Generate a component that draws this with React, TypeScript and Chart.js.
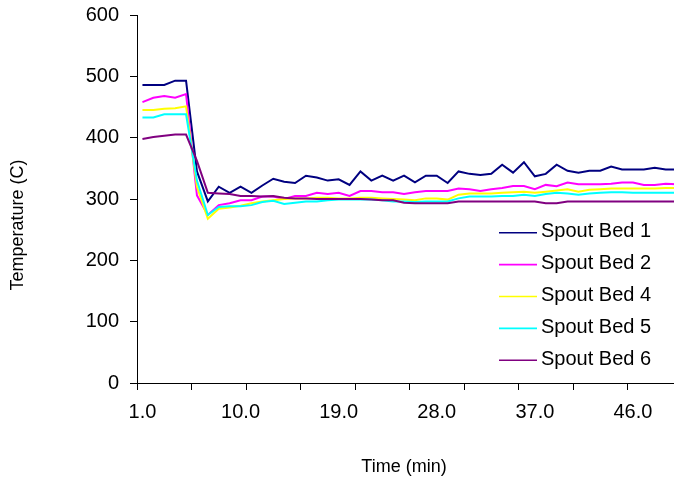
import React, { useEffect, useRef } from "react";
import { Chart, registerables } from "chart.js";

Chart.register(...registerables);

const timeLabels = [
  "1.0", "2.0", "3.0", "4.0", "5.0", "6.0", "7.0", "8.0", "9.0", "10.0",
  "11.0", "12.0", "13.0", "14.0", "15.0", "16.0", "17.0", "18.0", "19.0", "20.0",
  "21.0", "22.0", "23.0", "24.0", "25.0", "26.0", "27.0", "28.0", "29.0", "30.0",
  "31.0", "32.0", "33.0", "34.0", "35.0", "36.0", "37.0", "38.0", "39.0", "40.0",
  "41.0", "42.0", "43.0", "44.0", "45.0", "46.0", "47.0", "48.0", "49.0", "50.0",
];

const seriesNames = ["Spout Bed 1", "Spout Bed 2", "Spout Bed 4", "Spout Bed 5", "Spout Bed 6"];
const seriesColors = ["#000080", "#FF00FF", "#FFFF00", "#00FFFF", "#800080"];

const bed1 = [
  486, 486, 486, 493, 493, 345, 296, 320, 310, 320,
  310, 322, 333, 328, 326, 338, 335, 330, 332, 323,
  345, 330, 338, 330, 338, 327, 338, 338, 326, 345,
  341, 339, 341, 356, 343, 360, 337, 341, 356, 346,
  343, 346, 346, 353, 348, 348, 348, 351, 348, 348,
];
const bed2 = [
  458, 465, 468, 465, 471, 306, 274, 290, 293, 298,
  298, 304, 304, 300, 305, 305, 310, 308, 310, 305,
  313, 313, 311, 311, 308, 311, 313, 313, 313, 317,
  316, 313, 316, 318, 321, 321, 316, 323, 321, 327,
  324, 324, 324, 325, 327, 327, 323, 323, 325, 324,
];
const bed4 = [
  445, 445, 447, 448, 451, 320, 268, 284, 286, 289,
  293, 296, 298, 300, 301, 301, 302, 302, 301, 301,
  302, 302, 301, 300, 299, 298, 301, 301, 299, 307,
  309, 309, 309, 310, 311, 312, 310, 312, 314, 316,
  312, 315, 316, 317, 317, 317, 317, 317, 318, 318,
];
const bed5 = [
  433, 433, 438, 438, 438, 330, 274, 287, 288, 288,
  290, 295, 297, 292, 294, 296, 296, 298, 299, 299,
  299, 299, 298, 296, 296, 295, 296, 296, 296, 301,
  304, 304, 304, 305, 305, 307, 305, 308, 310, 309,
  307, 309, 310, 311, 311, 310, 310, 310, 310, 310,
];
const bed6 = [
  398, 401, 403, 405, 405, 362, 310, 309, 308, 305,
  305, 304, 305, 302, 301, 301, 300, 300, 300, 300,
  300, 299, 298, 298, 294, 293, 293, 293, 293, 296,
  296, 296, 296, 296, 296, 296, 296, 293, 293, 296,
  296, 296, 296, 296, 296, 296, 296, 296, 296, 296,
];

const yMin = 0;
const yMax = 600;
const yStep = 100;
const xLabelEvery = 9;
const xTickEvery = 5;
const yTitle = "Temperature (C)";
const xTitle = "Time (min)";

const FAMILY = "'Liberation Sans', Arial, Helvetica, sans-serif";
const FONT_SIZE = 20;
const TITLE_SIZE = 18;

export default function App() {
  const ref = useRef<HTMLCanvasElement | null>(null);

  useEffect(() => {
    const canvas = ref.current;
    if (!canvas) return;
    const series = [bed1, bed2, bed4, bed5, bed6];

    const overlayPlugin = {
      id: "overlayTexts",
      afterDraw(chart: any) {
        const ctx = chart.ctx as CanvasRenderingContext2D;
        ctx.save();
        ctx.font = `${FONT_SIZE}px ${FAMILY}`;
        ctx.fillStyle = "#000";
        chart.data.datasets.forEach((ds: any, i: number) => {
          const y = 232.7 + 31.9 * i;
          ctx.strokeStyle = ds.borderColor;
          ctx.lineWidth = 1.6;
          ctx.beginPath();
          ctx.moveTo(499, y);
          ctx.lineTo(537, y);
          ctx.stroke();
          ctx.textAlign = "left";
          ctx.textBaseline = "middle";
          ctx.fillText(ds.label, 541, y - 1);
        });
        ctx.font = `${TITLE_SIZE}px ${FAMILY}`;
        ctx.textAlign = "center";
        ctx.textBaseline = "middle";
        ctx.fillText(xTitle, 404, 467);
        ctx.translate(18, 225);
        ctx.rotate(-Math.PI / 2);
        ctx.fillText(yTitle, 0, 0);
        ctx.restore();
      },
    };

    const chart = new Chart(canvas, {
      type: "line",
      data: {
        labels: timeLabels,
        datasets: series.map((d, i) => ({
          label: seriesNames[i],
          data: d,
          borderColor: seriesColors[i],
          backgroundColor: seriesColors[i],
          borderWidth: 2,
          pointRadius: 0,
          pointHoverRadius: 0,
          tension: 0,
          fill: false,
          order: series.length - i,
        })),
      },
      options: {
        responsive: false,
        animation: false,
        layout: { padding: { left: 0, top: 15, right: 10, bottom: 0 } },
        plugins: {
          legend: { display: false },
          tooltip: { enabled: false },
          title: { display: false },
        },
        scales: {
          x: {
            type: "category",
            offset: true,
            grid: {
              offset: true,
              drawOnChartArea: false,
              tickLength: 7,
              lineWidth: 1,
              color: (c: any) => (c.index % xTickEvery === 0 ? "#000" : "rgba(0,0,0,0)"),
            },
            border: { display: true, color: "#000", width: 1 },
            ticks: {
              autoSkip: false,
              maxRotation: 0,
              minRotation: 0,
              padding: 10,
              color: "#000",
              font: { family: FAMILY, size: FONT_SIZE },
              callback: (_v: any, i: number) => (i % xLabelEvery === 0 ? timeLabels[i] : ""),
            },
            afterFit: (s: any) => {
              s.height = 104;
              s.paddingLeft = 0;
              s.paddingRight = 0;
            },
          },
          y: {
            min: yMin,
            max: yMax,
            grid: { drawOnChartArea: false, tickLength: 7, color: "#000", lineWidth: 1 },
            border: { display: true, color: "#000", width: 1 },
            ticks: {
              stepSize: yStep,
              padding: 11,
              color: "#000",
              font: { family: FAMILY, size: FONT_SIZE },
            },
            afterFit: (s: any) => {
              s.width = 137;
              s.paddingTop = 0;
              s.paddingBottom = 0;
            },
          },
        },
      },
      plugins: [overlayPlugin],
    });

    return () => {
      chart.destroy();
    };
  }, []);

  return (
    <div
      style={{
        position: "absolute",
        left: 0,
        top: 0,
        width: 674,
        height: 487,
        overflow: "hidden",
        background: "#fff",
      }}
    >
      <canvas ref={ref} width={692} height={487} style={{ display: "block", width: 692, height: 487 }} />
    </div>
  );
}
